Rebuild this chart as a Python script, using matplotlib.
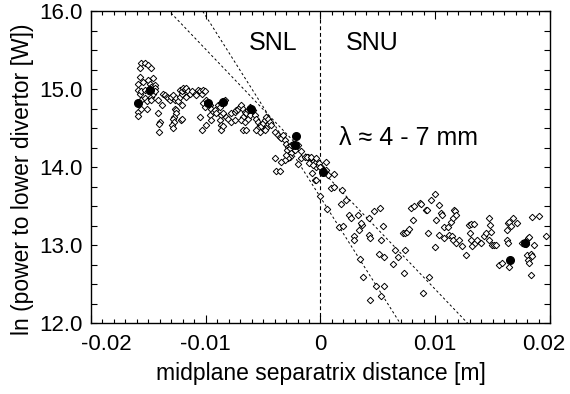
import numpy as np
import matplotlib
matplotlib.use("Agg")
import matplotlib.pyplot as plt
import matplotlib.transforms as mtransforms
from matplotlib.ticker import MultipleLocator

plt.rcParams['font.family'] = ['Liberation Sans', 'DejaVu Sans']

# open diamonds: midplane separatrix distance [m] and ln(power) [W]
sep_x = [
    -0.01560, -0.01531, -0.01502, -0.01473, -0.01574,
    -0.01574, -0.01589, -0.01546, -0.01502, -0.01487, -0.01459, -0.01444,
    -0.01594, -0.01574, -0.01560, -0.01531, -0.01502, -0.01487, -0.01473, -0.01459, -0.01444,
    -0.01560, -0.01531, -0.01516, -0.01473, -0.01459, -0.01444,
    -0.01589, -0.01589, -0.01560, -0.01516, -0.01473,
    -0.01415, -0.01415, -0.01400, -0.01409, -0.01409, -0.01385,
    -0.01371, -0.01357, -0.01342, -0.01328, -0.01313, -0.01299, -0.01284, -0.01270, -0.01255, -0.01241, -0.01226, -0.01211,
    -0.01270, -0.01255, -0.01263, -0.01276, -0.01284, -0.01276, -0.01293, -0.01284, -0.01211, -0.01217, -0.01206,
    -0.01226, -0.01211, -0.01197, -0.01183, -0.01168, -0.01154, -0.01139, -0.01168, -0.01124,
    -0.01067, -0.01052, -0.01037, -0.01023, -0.01009, -0.01081,
    -0.01052, -0.01023, -0.01009, -0.00994, -0.00965, -0.00950, -0.00937, -0.00922, -0.00907, -0.00965, -0.00950, -0.00994, -0.01032,
    -0.00893, -0.00878, -0.00863, -0.00850, -0.00835, -0.00863, -0.00878, -0.00863, -0.00870, -0.00850,
    -0.00850, -0.00820, -0.00806, -0.00777, -0.00748, -0.00777, -0.00748, -0.00733, -0.00719, -0.00704,
    -0.00690, -0.00676, -0.00661, -0.00646, -0.00676, -0.00690, -0.00661, -0.00632, -0.00617,
    -0.00676, -0.00646, -0.00589, -0.00617, -0.00632,
    -0.00574, -0.00559, -0.00545, -0.00530, -0.00545, -0.00530, -0.00559, -0.00516,
    -0.00502, -0.00487, -0.00472, -0.00458, -0.00443, -0.00429, -0.00472, -0.00487,
    -0.00400, -0.00371, -0.00357, -0.00342, -0.00328, -0.00313, -0.00298, -0.00284, -0.00290, -0.00270,
    -0.00255, -0.00241, -0.00226, -0.00211, -0.00197, -0.00226, -0.00255, -0.00270, -0.00284, -0.00313, -0.00298,
    -0.00400, -0.00385, -0.00357, -0.00342,
    -0.00197, -0.00168, -0.00139, -0.00168,
    -0.00110, -0.00081, -0.00067, -0.00052, -0.00037, -0.00023, -0.00009, 0.00006, -0.00052, -0.00076,
    -0.00119, -0.00081, -0.00037, -0.00096, -0.00067, -0.00043,
    0.00000, 0.00020, 0.00050, 0.00050, 0.00063, 0.00122, 0.00000,
    0.00061, 0.00093, 0.00122, 0.00189, 0.00223, 0.00180, 0.00165, 0.00194,
    0.00252, 0.00267, 0.00324, 0.00296, 0.00296, 0.00339, 0.00363, 0.00354,
    0.00426, 0.00470, 0.00519, 0.00426, 0.00432, 0.00528, 0.00548,
    0.00348, 0.00374, 0.00484, 0.00557, 0.00432, 0.00528, 0.00513, 0.00557,
    0.00629, 0.00652, 0.00672, 0.00739, 0.00730,
    0.00716, 0.00739, 0.00750, 0.00774, 0.00809, 0.00789, 0.00817, 0.00867,
    0.00890, 0.00948, 0.00933, 0.00919, 0.00963, 0.01000, 0.01035,
    0.01006, 0.01050, 0.01058, 0.01000, 0.00875, 0.00930, 0.01080,
    0.01035, 0.01078, 0.01107, 0.01122, 0.01137, 0.01145, 0.01157, 0.01165, 0.01174, 0.01180,
    0.01157, 0.01180, 0.01209, 0.01237, 0.01267,
    0.01296, 0.01310, 0.01339, 0.01302, 0.01310, 0.01319, 0.01348,
    0.01368, 0.01397, 0.01426, 0.01441, 0.01470, 0.01476, 0.01484, 0.01470,
    0.01493, 0.01513, 0.01533,
    0.01557, 0.01580, 0.01629, 0.01637, 0.01643, 0.01643, 0.01658, 0.01678, 0.01716, 0.01629, 0.01637,
    0.01754, 0.01789, 0.01811, 0.01794, 0.01817, 0.01861,
    0.01803, 0.01832, 0.01846, 0.01811, 0.01817, 0.01832,
    0.01846, 0.01904, 0.01968,
]
sep_y = [
    15.33, 15.33, 15.31, 15.27, 15.27,
    15.16, 15.07, 15.09, 15.12, 15.07, 15.14, 15.05,
    14.99, 14.94, 14.97, 14.99, 14.97, 15.01, 15.03, 14.99, 15.01,
    14.86, 14.88, 14.84, 14.90, 14.94, 14.97,
    14.71, 14.65, 14.75, 14.75, 14.86,
    14.86, 14.69, 14.58, 14.55, 14.45, 14.79,
    14.94, 14.92, 14.90, 14.88, 14.86, 14.90, 14.92, 14.86, 14.88, 14.84, 14.90, 14.94,
    14.75, 14.73, 14.69, 14.64, 14.62, 14.58, 14.54, 14.50, 14.79, 14.60, 14.62,
    14.99, 14.97, 15.01, 15.00, 15.01, 14.97, 14.94, 14.90, 14.97,
    14.99, 14.97, 14.94, 14.99, 14.97, 14.92,
    14.64, 14.82, 14.77, 14.86, 14.79, 14.75, 14.71, 14.73, 14.69, 14.67, 14.60, 14.54, 14.47,
    14.79, 14.77, 14.82, 14.84, 14.86, 14.67, 14.60, 14.54, 14.48, 14.52,
    14.69, 14.64, 14.62, 14.58, 14.60, 14.69, 14.71, 14.73, 14.75, 14.77,
    14.79, 14.75, 14.71, 14.69, 14.64, 14.60, 14.58, 14.62, 14.67,
    14.47, 14.47, 14.73, 14.77, 14.73,
    14.67, 14.62, 14.58, 14.54, 14.50, 14.45, 14.47, 14.52,
    14.56, 14.60, 14.64, 14.62, 14.58, 14.54, 14.50, 14.47,
    14.45, 14.41, 14.39, 14.37, 14.41, 14.35, 14.30, 14.26, 14.22, 14.24,
    14.28, 14.30, 14.26, 14.26, 14.28, 14.22, 14.18, 14.13, 14.11, 14.09, 14.15,
    14.12, 13.95, 13.95, 14.07,
    14.04, 14.11, 14.13, 14.20,
    14.13, 14.11, 14.07, 14.05, 14.00, 14.03, 14.05, 14.00, 13.83, 13.92,
    14.13, 14.13, 14.11, 14.05, 14.03, 13.83,
    14.00, 13.96, 14.07, 13.96, 13.90, 13.91, 13.63,
    13.46, 13.73, 13.75, 13.71, 13.58, 13.53, 13.23, 13.24,
    13.38, 13.34, 13.38, 13.11, 13.07, 13.19, 13.26, 13.28,
    13.34, 13.43, 13.48, 13.13, 13.09, 13.06, 13.25,
    12.82, 12.59, 12.47, 12.47, 12.30, 12.34, 12.89, 12.84,
    12.76, 12.94, 12.84, 12.94, 12.64,
    13.15, 13.15, 13.17, 13.21, 13.32, 13.48, 13.50, 13.54,
    12.39, 12.59, 13.15, 13.45, 13.58, 13.66, 13.51,
    13.32, 13.41, 13.38, 12.98, 13.53, 13.45, 13.23,
    13.13, 13.09, 13.23, 13.13, 13.29, 13.11, 13.34, 13.45, 13.43, 13.38,
    13.06, 13.02, 13.06, 12.99, 12.87,
    13.26, 13.27, 13.27, 13.15, 13.06, 12.99, 13.02,
    13.06, 13.02, 13.11, 13.15, 13.34, 13.26, 13.17, 13.06,
    13.00, 13.00, 13.00,
    12.74, 12.77, 13.19, 13.28, 13.30, 12.72, 13.24, 13.35, 13.28, 13.06, 13.03,
    13.03, 13.04, 13.09, 13.01, 13.10, 13.00,
    12.87, 12.89, 12.86, 12.81, 12.77, 12.62,
    13.36, 13.37, 13.12,
]

# filled markers
hi_x = [-0.01589, -0.01487, -0.00980, -0.00850, -0.00603, -0.00211, -0.00226, 0.00020, 0.01650, 0.01783]
hi_y = [14.82, 14.99, 14.82, 14.83, 14.75, 14.40, 14.28, 13.94, 12.81, 13.03]

# exponential fits: ln P = y0 - x / lambda
fit_lambda = [0.0065, 0.0043]
fit_y0 = [13.97, 13.61]

fig = plt.figure(figsize=(5.7, 3.94), dpi=100)
ax = fig.add_axes([91 / 570, 71 / 394, 459 / 570, 312 / 394])

xx = np.linspace(-0.02, 0.02, 400)
for lam, y0 in zip(fit_lambda, fit_y0):
    ax.plot(xx, y0 - xx / lam, color='black', lw=0.7, ls=(0, (2.5, 2.5)))
ax.axvline(0, color='black', lw=0.8, ls=(0, (3.5, 2.5)))

ax.plot(sep_x, sep_y, 'D', ms=3.3, mfc='white', mec='black', mew=0.7, ls='none')
ax.plot(hi_x, hi_y, 'o', ms=5.5, color='black', ls='none')

ax.set_xlim(-0.02, 0.02)
ax.set_ylim(12.0, 16.0)
ax.set_xticks([-0.02, -0.01, 0, 0.01, 0.02])
ax.set_xticklabels(['-0.02', '-0.01', '0', '0.01', '0.02'])
ax.xaxis.set_minor_locator(MultipleLocator(0.001))
ax.set_yticks([12, 13, 14, 15, 16])
ax.set_yticklabels(['12.0', '13.0', '14.0', '15.0', '16.0'])
ax.yaxis.set_minor_locator(MultipleLocator(0.25))

ax.tick_params(which='both', direction='in', top=True, right=True, labelsize=16, width=0.8)
ax.tick_params(axis='x', which='major', length=6, pad=8)
ax.tick_params(axis='x', which='minor', length=3)
ax.tick_params(axis='y', which='both', length=4.5, pad=6)
for s in ax.spines.values():
    s.set_linewidth(1.0)

# end labels nudged inward, as in the original
xlabels = ax.get_xticklabels()
xlabels[0].set_transform(xlabels[0].get_transform() + mtransforms.ScaledTranslation(0.15, 0, fig.dpi_scale_trans))
xlabels[-1].set_transform(xlabels[-1].get_transform() + mtransforms.ScaledTranslation(-0.06, 0, fig.dpi_scale_trans))

ax.set_xlabel('midplane separatrix distance [m]', fontsize=16.5)
ax.set_ylabel('ln (power to lower divertor [W])', fontsize=16.5)
ax.xaxis.set_label_coords(0.5, -0.125)
ax.yaxis.set_label_coords(-0.125, 0.46)

ax.text(-0.0041, 15.59, 'SNL', fontsize=18, ha='center', va='center')
ax.text(0.0045, 15.59, 'SNU', fontsize=18, ha='center', va='center')
ax.text(0.00165, 14.37, 'λ ≈ 4 - 7 mm', fontsize=18, ha='left', va='center')

fig.savefig('out.png', dpi=100)
